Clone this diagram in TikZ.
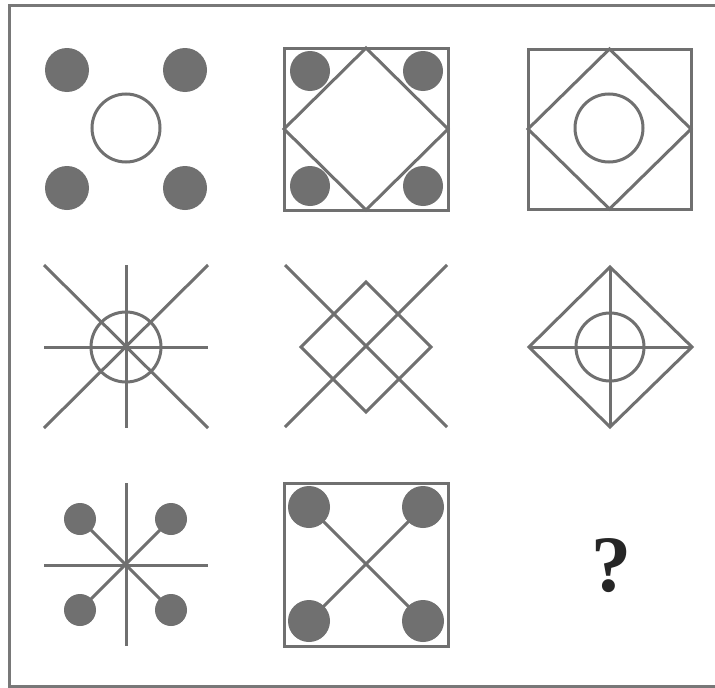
\documentclass[tikz,border=0pt]{standalone}
\usepackage{fontspec}
\setmainfont{Liberation Serif}
\definecolor{ink}{RGB}{112,112,112}
\definecolor{frame}{RGB}{120,120,120}
\begin{document}
\begin{tikzpicture}[x=1pt,y=-1pt,
  ln/.style={draw=ink,line width=3pt},
  dot/.style={fill=ink},
  ring/.style={draw=ink,line width=3pt}]
\useasboundingbox (0,0) rectangle (715,688);
\fill[white] (0,0) rectangle (715,688);
\draw[frame,line width=3pt] (725,5) -- (9.5,5) -- (9.5,686) -- (725,686);
% panel 1
\foreach \p in {(67,70),(185,70),(67,188),(185,188)} \fill[dot] \p circle (22);
\draw[ring] (126,128) circle (34);
% panel 2
\foreach \p in {(310,71),(423,71),(310,186),(423,186)} \fill[dot] \p circle (20);
\draw[ln] (284,48) rectangle (448,210);
\draw[ln] (366,48) -- (448,129) -- (366,210) -- (284,129) -- cycle;
% panel 3
\draw[ln] (528,49) rectangle (691,209);
\draw[ln] (609.5,49) -- (691,129) -- (609.5,209) -- (528,129) -- cycle;
\draw[ring] (609,128) circle (34);
% panel 4
\draw[ln] (44,265) -- (208,428);
\draw[ln] (44,428) -- (208,265);
\draw[ln] (126,265) -- (126,428);
\draw[ln] (44,347) -- (208,347);
\draw[ring] (126,347) circle (35);
% panel 5
\draw[ln] (285,265) -- (447,427);
\draw[ln] (285,427) -- (447,265);
\draw[ln] (366,282) -- (431,347) -- (366,412) -- (301,347) -- cycle;
% panel 6
\draw[ln] (610,267) -- (692,347) -- (610,427) -- (529,347) -- cycle;
\draw[ln] (610,267) -- (610,427);
\draw[ln] (529,347) -- (692,347);
\draw[ring] (610,347) circle (34);
% panel 7
\draw[ln] (44,565) -- (208,565);
\draw[ln] (126,483) -- (126,646);
\draw[ln] (80,519) -- (171,610);
\draw[ln] (80,610) -- (171,519);
\foreach \p in {(80,519),(171,519),(80,610),(171,610)} \fill[dot] \p circle (16);
% panel 8
\draw[ln] (284,483) rectangle (448,646);
\draw[ln] (309,507) -- (423,621);
\draw[ln] (309,621) -- (423,507);
\foreach \p in {(309,507),(423,507),(309,621),(423,621)} \fill[dot] \p circle (21);
% panel 9
\node[text=black!85,font=\fontsize{80}{80}\selectfont\bfseries] (q) at (611,566) {?};
\end{tikzpicture}
\end{document}
